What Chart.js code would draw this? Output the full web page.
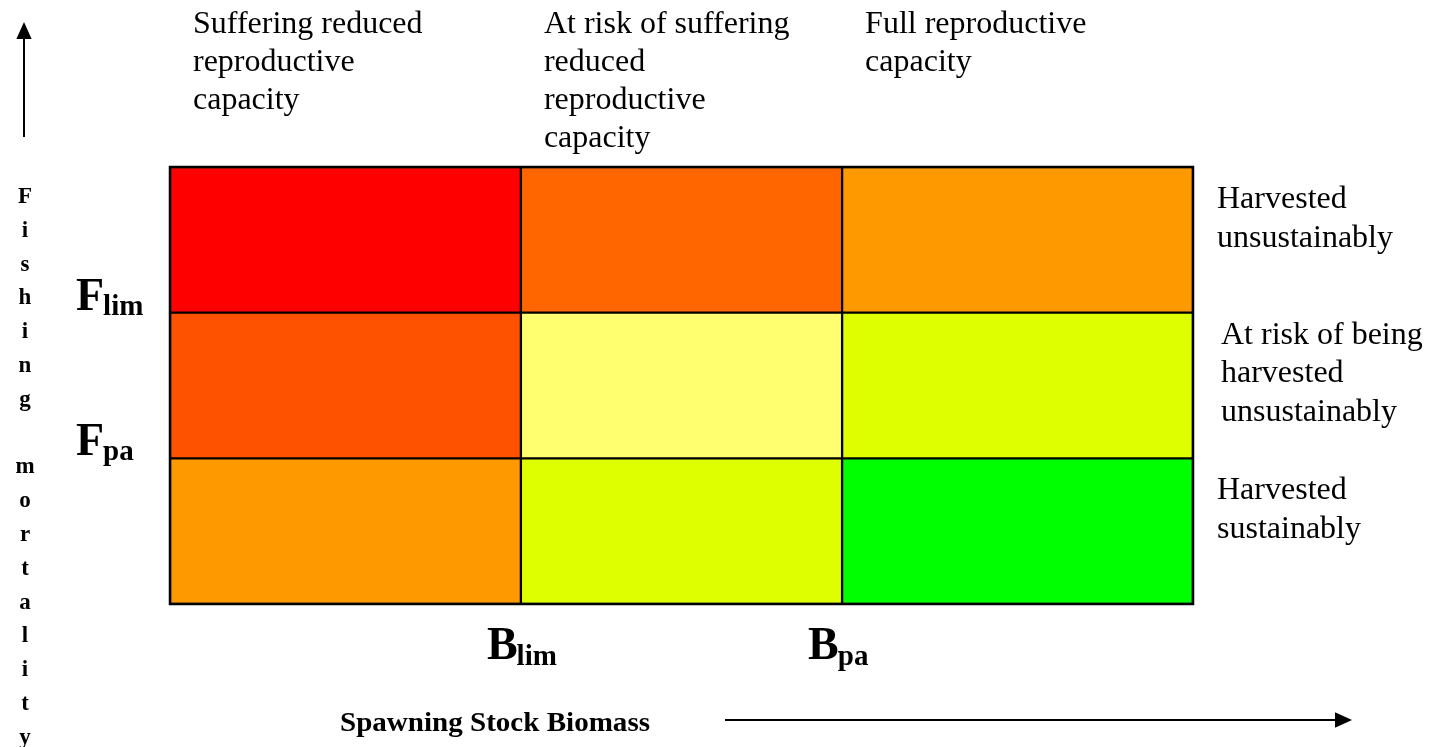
<!DOCTYPE html>
<html>
<head>
<meta charset="utf-8">
<script src="https://cdn.jsdelivr.net/npm/chart.js@4.4.1/dist/chart.umd.min.js"></script>
<style>
  html, body { margin: 0; padding: 0; background: #fff; }
  #wrap { width: 1431px; height: 747px; position: relative; }
</style>
</head>
<body>
<div id="wrap"><canvas id="kobe"></canvas></div>
<script>
// Hàng = mức khai thác (F), từ trên xuống
const rowLabels = ['Above Flim', 'Between Fpa and Flim', 'Below Fpa'];
// Cột = sinh khối (SSB), biên tại Blim và Bpa
const colLabels = ['Below Blim', 'Between Blim and Bpa', 'Above Bpa'];
const colEdges = [0, 34.3, 65.7, 100];
const refLabelsX = [['B', 'lim'], ['B', 'pa']];   // ở colEdges[1], colEdges[2]
const refLabelsY = [['F', 'lim'], ['F', 'pa']];   // ở ranh giới giữa các hàng

// màu từng ô: [hàng][cột]
const cellColors = [
  ['#ff0000', '#ff6600', '#ff9900'],
  ['#ff5200', '#ffff70', '#ddff00'],
  ['#ff9900', '#ddff00', '#00ff00']
];

const headerTexts = [
  ['Suffering reduced', 'reproductive', 'capacity'],
  ['At risk of suffering', 'reduced', 'reproductive', 'capacity'],
  ['Full reproductive', 'capacity']
];
const sideTexts = [
  ['Harvested', 'unsustainably'],
  ['At risk of being', 'harvested', 'unsustainably'],
  ['Harvested', 'sustainably']
];
const yTitle = 'Fishing mortality';
const xTitle = 'Spawning Stock Biomass';

const SERIF = '"Liberation Serif", "Times New Roman", serif';

const datasets = colLabels.map((name, c) => ({
  label: name,
  data: rowLabels.map(() => [colEdges[c], colEdges[c + 1]]),
  backgroundColor: cellColors.map(r => r[c]),
  borderColor: '#000',
  borderWidth: 1.5,
  borderSkipped: false,
  grouped: false,
  barPercentage: 1,
  categoryPercentage: 1
}));

function drawArrow(ctx, x1, y1, x2, y2, head) {
  const ang = Math.atan2(y2 - y1, x2 - x1);
  ctx.save();
  ctx.strokeStyle = '#000';
  ctx.fillStyle = '#000';
  ctx.lineWidth = 2;
  ctx.beginPath();
  ctx.moveTo(x1, y1);
  ctx.lineTo(x2 - Math.cos(ang) * head, y2 - Math.sin(ang) * head);
  ctx.stroke();
  ctx.translate(x2, y2);
  ctx.rotate(ang);
  ctx.beginPath();
  ctx.moveTo(0, 0);
  ctx.lineTo(-head, -head * 0.45);
  ctx.lineTo(-head, head * 0.45);
  ctx.closePath();
  ctx.fill();
  ctx.restore();
}

function drawSub(ctx, main, sub, x, y, mainSize, subSize, subDrop) {
  ctx.font = 'bold ' + mainSize + 'px ' + SERIF;
  ctx.fillText(main, x, y);
  const w = ctx.measureText(main).width;
  ctx.font = 'bold ' + subSize + 'px ' + SERIF;
  ctx.fillText(sub, x + w - 1, y + subDrop);
}

const annotations = {
  id: 'annotations',
  afterDraw(chart) {
    const ctx = chart.ctx;
    const xs = chart.scales.x;
    const ys = chart.scales.y;
    const area = chart.chartArea;
    ctx.save();
    ctx.fillStyle = '#000';
    ctx.textBaseline = 'alphabetic';
    ctx.textAlign = 'left';

    // khung ngoài
    ctx.strokeStyle = '#000';
    ctx.lineWidth = 2.5;
    ctx.strokeRect(area.left, area.top, area.right - area.left, area.bottom - area.top);

    // tiêu đề các cột
    ctx.font = '32px ' + SERIF;
    headerTexts.forEach((lines, c) => {
      const x = xs.getPixelForValue(colEdges[c]) + 23;
      lines.forEach((t, i) => ctx.fillText(t, x, 33 + i * 38));
    });

    // nhãn bên phải theo hàng
    const rowTop = r => (r === 0 ? area.top : (ys.getPixelForTick(r - 1) + ys.getPixelForTick(r)) / 2);
    ctx.font = '32px ' + SERIF;
    sideTexts.forEach((lines, r) => {
      const top = rowTop(r);
      const x = r === 1 ? area.right + 28 : area.right + 24;
      const first = r === 1 ? top + 31 : top + 41;
      lines.forEach((t, i) => ctx.fillText(t, x, first + i * 38.5));
    });

    // Flim, Fpa
    refLabelsY.forEach((lab, i) => {
      const yb = rowTop(i + 1);
      drawSub(ctx, lab[0], lab[1], 76, yb - 3, 46, 29, 5);
    });

    // Blim, Bpa
    refLabelsX.forEach((lab, i) => {
      const x = xs.getPixelForValue(colEdges[i + 1]) - 34;
      drawSub(ctx, lab[0], lab[1], x, 659, 46, 29, 6);
    });

    // trục tung: chữ dọc
    ctx.font = 'bold 23px ' + SERIF;
    ctx.textAlign = 'center';
    yTitle.split('').forEach((ch, i) => {
      ctx.fillText(ch, 25, 203 + i * 33.8);
    });
    drawArrow(ctx, 24, 137, 24, 22, 17);

    // trục hoành
    ctx.font = 'bold 25px ' + SERIF;
    ctx.textAlign = 'left';
    const tw = ctx.measureText(xTitle).width;
    ctx.save();
    ctx.translate(340, 731);
    ctx.scale(310 / tw, 1.12);
    ctx.fillText(xTitle, 0, 0);
    ctx.restore();
    drawArrow(ctx, 725, 720, 1352, 720, 17);

    ctx.restore();
  }
};

new Chart(document.getElementById('kobe'), {
  type: 'bar',
  data: { labels: rowLabels, datasets: datasets },
  options: {
    indexAxis: 'y',
    responsive: true,
    maintainAspectRatio: false,
    animation: false,
    layout: { padding: { left: 170, right: 238, top: 167, bottom: 143 } },
    scales: {
      x: { type: 'linear', min: 0, max: 100, display: false },
      y: { type: 'category', display: false }
    },
    plugins: { legend: { display: false }, tooltip: { enabled: false } }
  },
  plugins: [annotations]
});
</script>
</body>
</html>
